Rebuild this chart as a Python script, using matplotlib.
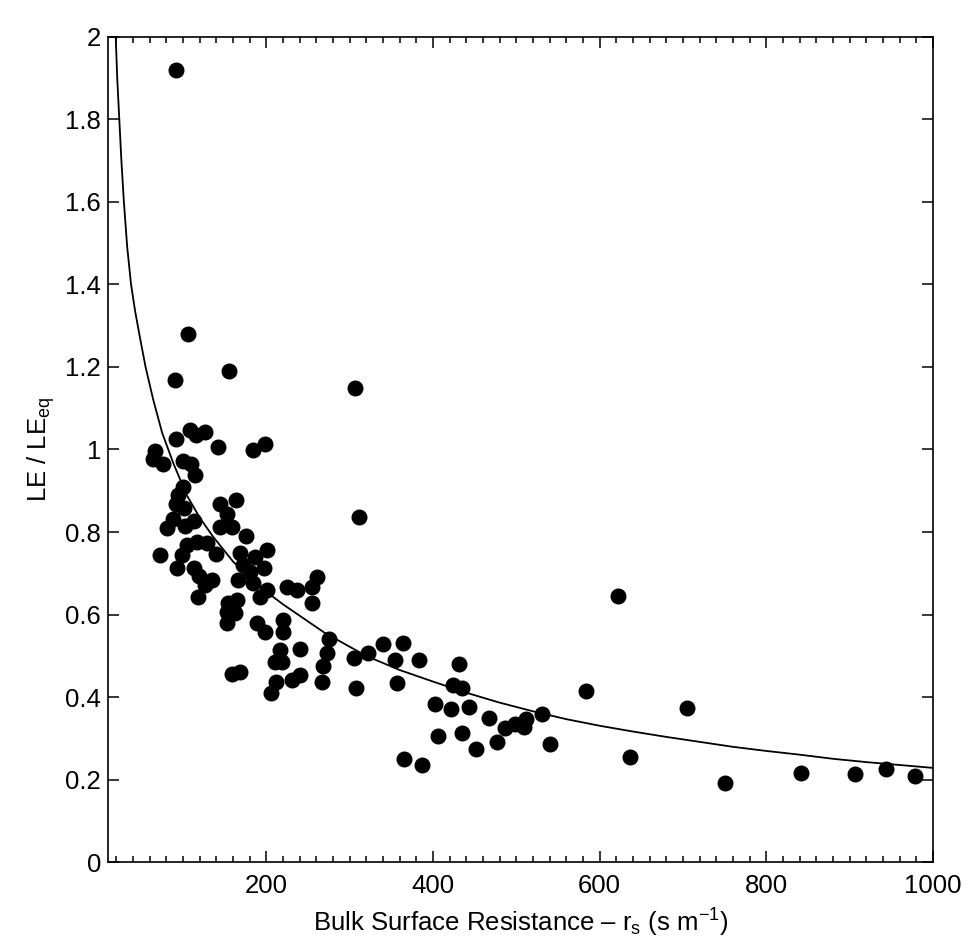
import matplotlib
matplotlib.use("Agg")
import matplotlib.pyplot as plt
from matplotlib.ticker import MultipleLocator

plt.rcParams['font.family'] = ['Liberation Sans', 'DejaVu Sans']
plt.rcParams['mathtext.fontset'] = 'custom'
plt.rcParams['mathtext.rm'] = 'Liberation Sans'
plt.rcParams['mathtext.it'] = 'Liberation Sans'

# observed points: bulk surface resistance (s m-1) and LE / LEeq
rs = [
    91.6, 106, 90.5, 155.5, 306.3, 311.5, 622, 66, 64.5, 75.5,
    92, 108, 115, 126.5, 141.5, 184, 198, 99.5, 109, 114,
    100.3, 93.5, 92, 101, 144, 163, 152.2, 88, 80.3, 102.4,
    113, 144.3, 158.3, 175, 72, 104.3, 117, 128.3, 139, 98.3,
    92.4, 113.5, 119, 134.3, 126.3, 118.3, 168.3, 172.3, 186, 197,
    180.3, 166.3, 184.3, 192.3, 201, 154.2, 164.3, 152.2, 162.3, 152.2,
    188.3, 198.2, 200.3, 224.3, 236.3, 254.3, 261, 254.3, 220.3, 220.3,
    240.3, 216.3, 275, 273, 158.3, 168.3, 205.8, 211.8, 210.3, 218.3,
    230.3, 240.3, 266.3, 268.3, 305.4, 307.1, 322.2, 340.2, 354.2, 356.2,
    364.2, 383.4, 365, 387, 431, 423.4, 435, 402.2, 421, 443,
    406.2, 435, 452, 467.2, 477.3, 486, 498, 509, 512, 531.3,
    540.2, 583.3, 637, 705.2, 750.7, 841.5, 906, 944, 978.7,
]
ratio = [
    1.919, 1.280, 1.168, 1.190, 1.150, 0.837, 0.645, 0.997, 0.977, 0.964,
    1.026, 1.046, 1.034, 1.042, 1.005, 0.999, 1.013, 0.973, 0.965, 0.938,
    0.909, 0.890, 0.868, 0.858, 0.869, 0.878, 0.843, 0.832, 0.809, 0.815,
    0.827, 0.813, 0.813, 0.790, 0.744, 0.768, 0.776, 0.773, 0.748, 0.745,
    0.712, 0.714, 0.694, 0.684, 0.672, 0.643, 0.749, 0.720, 0.740, 0.712,
    0.704, 0.684, 0.676, 0.644, 0.660, 0.628, 0.636, 0.607, 0.603, 0.580,
    0.579, 0.559, 0.757, 0.668, 0.660, 0.666, 0.692, 0.628, 0.588, 0.559,
    0.518, 0.515, 0.542, 0.508, 0.456, 0.462, 0.410, 0.438, 0.486, 0.486,
    0.442, 0.454, 0.437, 0.476, 0.496, 0.422, 0.507, 0.528, 0.490, 0.434,
    0.531, 0.490, 0.251, 0.236, 0.481, 0.430, 0.422, 0.383, 0.371, 0.377,
    0.307, 0.313, 0.274, 0.349, 0.292, 0.326, 0.335, 0.327, 0.347, 0.360,
    0.286, 0.415, 0.255, 0.373, 0.192, 0.217, 0.214, 0.226, 0.210,
]

# fitted curve
fit_rs = [19.2, 21, 23.5, 26, 29, 33, 37.6, 42.5, 48.4, 55,
          64.3, 75, 88.3, 104.3, 120, 136, 160.3, 180, 200.3, 220,
          240.3, 270, 320, 360, 400, 440, 480, 520, 560, 600,
          640, 680, 720, 760, 800, 840, 880, 920, 960, 1000]
fit_ratio = [2.0, 1.9, 1.8, 1.7, 1.6, 1.49, 1.4, 1.335, 1.27, 1.2,
             1.12, 1.04, 0.967, 0.89, 0.835, 0.789, 0.728, 0.69, 0.655, 0.625,
             0.597, 0.556, 0.500, 0.466, 0.438, 0.411, 0.387, 0.366, 0.347, 0.331,
             0.317, 0.304, 0.292, 0.280, 0.270, 0.261, 0.251, 0.243, 0.236, 0.229]

fig = plt.figure(figsize=(9.69, 9.49), dpi=100)
ax = fig.add_axes([0.1115, 0.0912, 0.8513, 0.8703])

ax.plot(fit_rs, fit_ratio, color='black', lw=1.3)
ax.plot(rs, ratio, 'o', color='black', ms=10.5, mec='black', ls='none')

ax.set_xlim(10, 1000)
ax.set_ylim(0, 2)
ax.set_xticks([200, 400, 600, 800, 1000])
ax.xaxis.set_minor_locator(MultipleLocator(20))
ax.set_yticks([0, 0.2, 0.4, 0.6, 0.8, 1, 1.2, 1.4, 1.6, 1.8, 2])
ax.set_yticklabels(['0', '0.2', '0.4', '0.6', '0.8', '1', '1.2', '1.4', '1.6', '1.8', '2'])

ax.tick_params(which='both', direction='in', top=True, right=True, labelsize=18.5, width=1.1)
ax.tick_params(which='major', length=8)
ax.tick_params(which='minor', length=4)
ax.tick_params(axis='x', pad=8)
ax.tick_params(axis='y', pad=5)
for sp in ax.spines.values():
    sp.set_linewidth(1.2)

ax.set_xlabel(r'Bulk Surface Resistance – r$_\mathregular{s}$ (s m$^{\mathregular{-1}}$)', fontsize=18.5, labelpad=7)
ax.set_ylabel(r'LE / LE$_\mathregular{eq}$', fontsize=18.5, labelpad=6)

fig.savefig('out.png', dpi=100)
